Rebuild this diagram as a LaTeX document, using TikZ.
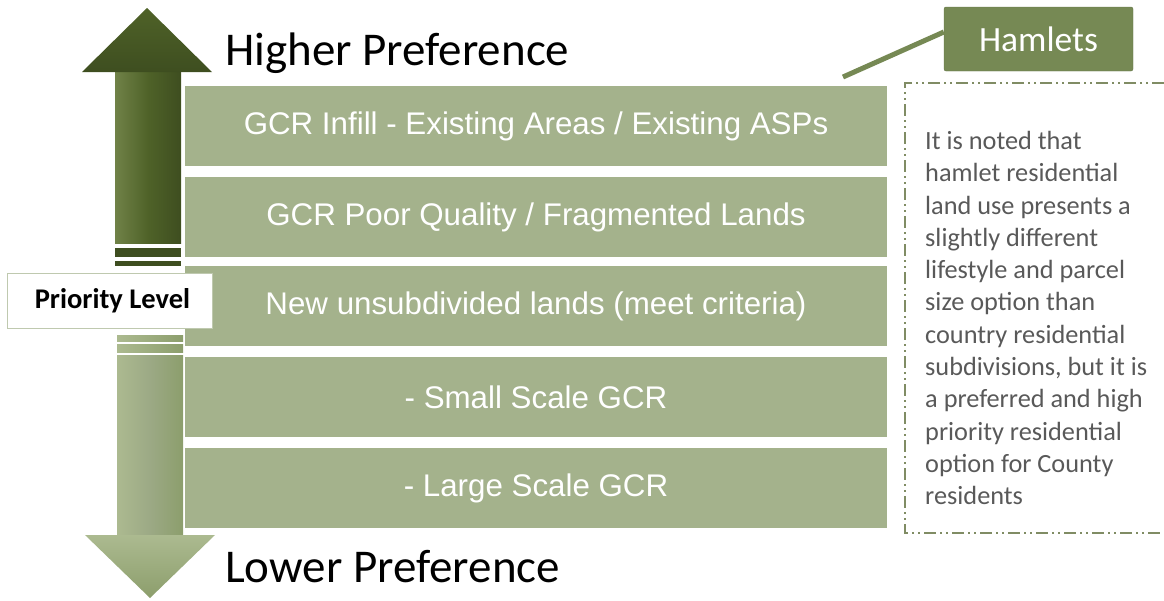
\documentclass[tikz,border=0pt]{standalone}
\usepackage{fontspec}
\newfontfamily\calibrifont{Carlito}
\newfontfamily\arialfont{Liberation Sans}
\usetikzlibrary{positioning, calc, shapes.misc}
\definecolor{TierGreen}{RGB}{164, 178, 140}
\definecolor{OliveDark}{RGB}{79, 98, 40}
\definecolor{OliveDeep}{RGB}{62, 78, 32}
\definecolor{OliveLight}{RGB}{112, 130, 72}
\definecolor{SageLight}{RGB}{172, 186, 144}
\definecolor{SageMid}{RGB}{140, 158, 108}
\definecolor{HamletGreen}{RGB}{118, 137, 84}
\definecolor{FrameOlive}{RGB}{128, 140, 100}
\definecolor{NoteGray}{RGB}{89, 89, 89}

\begin{document}
\begin{tikzpicture}[x=1pt, y=-1pt,
    tier/.style={fill=TierGreen, minimum width=702pt, minimum height=80pt, inner sep=0pt,
        text=white, font=\arialfont\fontsize{31.3}{36}\selectfont},
    pref/.style={anchor=base west, inner sep=0pt, font=\calibrifont\fontsize{47}{56}\selectfont}]
    \useasboundingbox (0,0) rectangle (1164,600);
    % up arrow
    \shade[left color=OliveLight, right color=OliveDeep, middle color=OliveDark] (115,72) rectangle (181,243);
    \shade[top color=OliveDark, bottom color=OliveDeep] (82,72) -- (147,8) -- (212,72) -- cycle;
    \fill[OliveDeep] (115,248) rectangle (181,257);
    \fill[OliveDeep] (115,261) rectangle (181,266);
    % down arrow
    \shade[left color=SageLight, right color=SageMid] (117,335) rectangle (183,341);
    \shade[left color=SageLight, right color=SageMid] (117,344) rectangle (183,352);
    \shade[left color=SageLight, right color=SageMid, middle color=TierGreen!95!black] (117,355) rectangle (183,536);
    \shade[top color=SageLight, bottom color=SageMid] (85,535) -- (215,535) -- (150,598) -- cycle;
    % headings
    \node[pref] (higher) at (225,65) {Higher Preference};
    \node[pref] (lower) at (225,582) {Lower Preference};
    % tiers
    \node[tier] (t1) at (536,126) {GCR Infill - Existing Areas / Existing ASPs};
    \node[tier] (t2) at (536,217) {GCR Poor Quality / Fragmented Lands};
    \node[tier] (t3) at (536,306) {New unsubdivided lands (meet criteria)};
    \node[tier] (t4) at (536,397) {- Small Scale GCR};
    \node[tier] (t5) at (536,488) {- Large Scale GCR};
    % priority label
    \node[draw=TierGreen!70, fill=white, line width=1pt, minimum width=205pt, minimum height=55pt,
        inner sep=0pt, font=\calibrifont\bfseries\fontsize{28.5}{34}\selectfont] (prio) at (109.5,300.5) {\hspace{6pt}Priority Level};
    % hamlets
    \node[fill=HamletGreen, draw=HamletGreen!85!black, rounded corners=2pt, minimum width=189pt,
        minimum height=64pt, inner sep=0pt, text=white,
        font=\calibrifont\fontsize{35.5}{40}\selectfont] (hamlets) at (1038.5,39) {Hamlets};
    \coordinate (hook) at (843,77);
    \draw[HamletGreen, line width=5pt] ([yshift=7pt]hamlets.west) -- (hook);
    % note frame
    \draw[FrameOlive, line width=1.8pt, dash pattern=on 12pt off 4pt on 2pt off 4pt on 2pt off 4pt]
        (1164,83) -- (905,83) -- (905,533) -- (1164,533);
    \node[anchor=north west, inner sep=0pt, align=left, text=NoteGray,
        font=\calibrifont\fontsize{26.3}{32.3}\selectfont] (note) at (925,131)
        {It is noted that\\hamlet residential\\land use presents a\\slightly different\\lifestyle and parcel\\size option than\\country residential\\subdivisions, but it is\\a preferred and high\\priority residential\\option for County\\residents};
\end{tikzpicture}
\end{document}
